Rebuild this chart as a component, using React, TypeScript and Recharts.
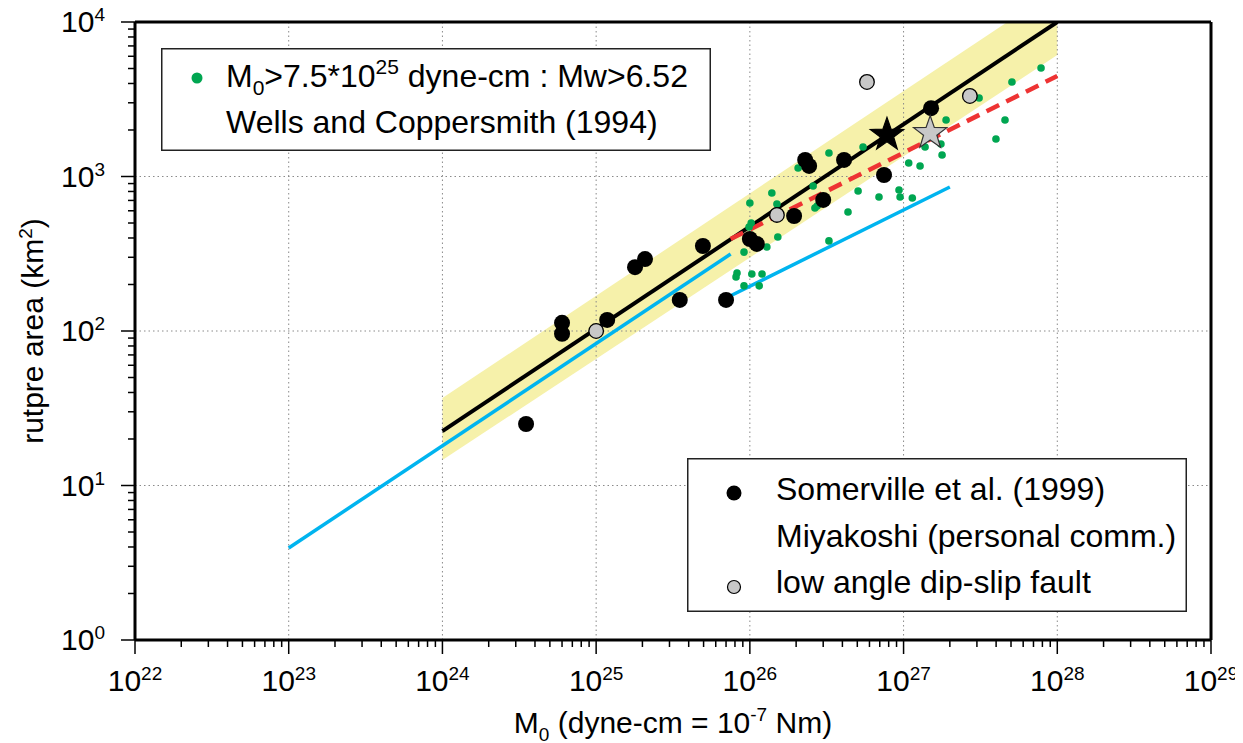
import React from 'react';
import { ComposedChart, XAxis, YAxis, Line, Area, Scatter, ReferenceLine, Label } from 'recharts';

const FONT = '"Liberation Sans", Arial, Helvetica, sans-serif';

// axis decades (tick labels are 10^n)
const xDecades = [1e22, 1e23, 1e24, 1e25, 1e26, 1e27, 1e28, 1e29];
const yDecades = [1, 10, 100, 1000, 10000];
const minorSteps = [2, 3, 4, 5, 6, 7, 8, 9];
const xTicks = [...xDecades, ...xDecades.slice(0, -1).flatMap((d) => minorSteps.map((k) => k * d))];
const yTicks = [...yDecades, ...yDecades.slice(0, -1).flatMap((d) => minorSteps.map((k) => k * d))];

// Somerville et al. (1999)
const somerville = [
  { x: 3.5e24, y: 25 },
  { x: 6.0e24, y: 113 },
  { x: 6.0e24, y: 96 },
  { x: 1.18e25, y: 118 },
  { x: 1.79e25, y: 259 },
  { x: 2.08e25, y: 292 },
  { x: 3.5e25, y: 159 },
  { x: 4.95e25, y: 355 },
  { x: 7.0e25, y: 159 },
  { x: 1.0e26, y: 394 },
  { x: 1.11e26, y: 366 },
  { x: 1.94e26, y: 555 },
  { x: 3.0e26, y: 705 },
  { x: 2.29e26, y: 1280 },
  { x: 2.43e26, y: 1170 },
  { x: 4.1e26, y: 1280 },
  { x: 7.46e26, y: 1023 },
  { x: 1.51e27, y: 2770 },
];

// low angle dip-slip fault
const lowAngle = [
  { x: 1.0e25, y: 100 },
  { x: 1.5e26, y: 564 },
  { x: 5.78e26, y: 4090 },
  { x: 2.7e27, y: 3320 },
];

// Miyakoshi (M0 > 7.5e25)
const miyakoshi = [
  { x: 3.27e26, y: 1419 }, { x: 5.45e26, y: 1552 }, { x: 2.06e26, y: 1135 },
  { x: 1.39e26, y: 782 }, { x: 1.0e26, y: 673 }, { x: 1.5e26, y: 664 },
  { x: 1.02e26, y: 500 }, { x: 9.88e25, y: 471 }, { x: 2.58e26, y: 868 },
  { x: 2.65e26, y: 625 }, { x: 2.74e26, y: 644 }, { x: 5.06e26, y: 806 },
  { x: 4.35e26, y: 589 }, { x: 6.92e26, y: 737 }, { x: 9.34e26, y: 818 },
  { x: 9.49e26, y: 737 }, { x: 1.14e27, y: 726 }, { x: 1.08e27, y: 1223 },
  { x: 1.28e27, y: 1169 }, { x: 1.78e27, y: 1378 }, { x: 1.52e26, y: 406 },
  { x: 1.29e26, y: 350 }, { x: 9.16e25, y: 324 }, { x: 3.27e26, y: 383 },
  { x: 8.25e25, y: 237 }, { x: 8.13e25, y: 224 }, { x: 1.03e26, y: 234 },
  { x: 1.2e26, y: 234 }, { x: 9.16e25, y: 196 }, { x: 1.15e26, y: 196 },
  { x: 1.89e27, y: 2320 }, { x: 1.38e27, y: 1552 }, { x: 1.75e27, y: 1624 },
  { x: 3.1e27, y: 3221 }, { x: 4.57e27, y: 2320 }, { x: 3.99e27, y: 1749 },
  { x: 5.07e27, y: 4090 }, { x: 7.84e27, y: 5040 },
];

const blackStar = [{ x: 7.8e26, y: 1860 }];
const grayStar = [{ x: 1.49e27, y: 1910 }];

// Wells and Coppersmith (1994) fit and its band
const wellsLine = [
  { x: 1e24, y: 22.5 },
  { x: 1e28, y: 10000 },
];
const wellsBand = [
  { x: 1e24, y: [14.6, 36.8] },
  { x: 1e28, y: [6110, 16400] },
];
const redLine = [
  { x: 7.5e25, y: 394 },
  { x: 1e28, y: 4470 },
];
const cyanLow = [
  { x: 1e23, y: 3.94 },
  { x: 7.5e25, y: 315 },
];
const cyanHigh = [
  { x: 7.5e25, y: 169 },
  { x: 2e27, y: 855 },
];

const GREEN = '#00a651';
const CYAN = '#00b4ef';
const RED = '#ee3333';
const YELLOW = '#f6f1aa';
const GRAY = '#c8c8c8';

const isMajor = (v: number) => {
  const e = Math.log10(v);
  return Math.abs(e - Math.round(e)) < 1e-6;
};

// draws tick line (major/minor) and optional 10^n label
const makeTick = (side: 'bottom' | 'top' | 'left' | 'right', label: boolean) => (props: any) => {
  const { x, y, payload } = props;
  const v = payload.value;
  const major = isMajor(v);
  const len = major ? 14 : 7;
  const e = Math.round(Math.log10(v));
  let line;
  if (side === 'bottom') line = <line x1={x} y1={y} x2={x} y2={y + len} />;
  else if (side === 'top') line = <line x1={x} y1={y} x2={x} y2={y - len} />;
  else if (side === 'left') line = <line x1={x} y1={y} x2={x - len} y2={y} />;
  else line = <line x1={x} y1={y} x2={x + len} y2={y} />;
  return (
    <g stroke="#000" strokeWidth={1.5}>
      {line}
      {label && major && side === 'bottom' && (
        <text x={x} y={y + 51} textAnchor="middle" fontSize={30} fontFamily={FONT} fill="#000" stroke="none">
          10
          <tspan dy={-11} fontSize={19}>{e}</tspan>
        </text>
      )}
      {label && major && side === 'left' && (
        <text x={x - 30} y={y + 10} textAnchor="end" fontSize={30} fontFamily={FONT} fill="#000" stroke="none">
          10
          <tspan dy={-11} fontSize={19}>{e}</tspan>
        </text>
      )}
    </g>
  );
};

const dot = (r: number, fill: string, stroke?: string) => (props: any) => (
  <circle cx={props.cx} cy={props.cy} r={r} fill={fill} stroke={stroke || 'none'} strokeWidth={1.3} />
);

const star = (fill: string, stroke: string) => (props: any) => {
  const { cx, cy } = props;
  const pts: string[] = [];
  for (let i = 0; i < 10; i++) {
    const r = i % 2 === 0 ? 17.5 : 7;
    const a = -Math.PI / 2 + (i * Math.PI) / 5;
    pts.push(`${cx + r * Math.cos(a)},${cy + r * Math.sin(a)}`);
  }
  return <polygon points={pts.join(' ')} fill={fill} stroke={stroke} strokeWidth={1.2} />;
};

const XTitle = (props: any) => {
  const { x, y, width } = props.viewBox;
  return (
    <text x={x + width / 2} y={y + 93} textAnchor="middle" fontSize={30} fontFamily={FONT} fill="#000">
      M<tspan dy={8} fontSize={19}>0</tspan>
      <tspan dy={-8}> (dyne-cm = 10</tspan>
      <tspan dy={-12} fontSize={19}>-7</tspan>
      <tspan dy={12}> Nm)</tspan>
    </text>
  );
};

const YTitle = (props: any) => {
  const { x, y, height, width } = props.viewBox;
  const cx = x + width - 92;
  const cy = y + height / 2;
  return (
    <text x={cx} y={cy} transform={`rotate(-90 ${cx} ${cy})`} textAnchor="middle" fontSize={30} fontFamily={FONT} fill="#000">
      rutpre area (km<tspan dy={-11} fontSize={19}>2</tspan>
      <tspan dy={11}>)</tspan>
    </text>
  );
};

const gridStyle = { stroke: '#8a8a8a', strokeWidth: 1, strokeDasharray: '1.5 3' };
const frame = { stroke: '#000', strokeWidth: 3 };

export default function App() {
  return (
    <div style={{ position: 'relative', width: 1227, height: 735, fontFamily: FONT }}>
      <style>{'.recharts-surface { overflow: visible; } .recharts-wrapper { overflow: visible; }'}</style>
      <ComposedChart width={1227} height={735} margin={{ top: 13, right: 23, bottom: 102, left: 126 }}>
        <XAxis dataKey="x" type="number" scale="log" domain={[1e22, 1e29]} ticks={xTicks} interval={0}
          allowDataOverflow height={1} tickSize={0} tickMargin={0} tickLine={false} axisLine={frame}
          tick={makeTick('bottom', true)}>
          <Label content={<XTitle />} />
        </XAxis>
        <XAxis xAxisId="xtop" orientation="top" dataKey="x" type="number" scale="log" domain={[1e22, 1e29]}
          ticks={xTicks} interval={0} height={1} tickSize={0} tickMargin={0} tickLine={false} axisLine={frame}
          tick={makeTick('top', false)} />
        <YAxis dataKey="y" type="number" scale="log" domain={[1, 10000]} ticks={yTicks} interval={0}
          allowDataOverflow width={1} tickSize={0} tickMargin={0} tickLine={false} axisLine={frame}
          tick={makeTick('left', true)}>
          <Label content={<YTitle />} />
        </YAxis>
        <YAxis yAxisId="yright" orientation="right" dataKey="y" type="number" scale="log" domain={[1, 10000]}
          ticks={yTicks} interval={0} width={1} tickSize={0} tickMargin={0} tickLine={false} axisLine={frame}
          tick={makeTick('right', false)} />

        <Area data={wellsBand} dataKey="y" type="linear" fill={YELLOW} fillOpacity={1} stroke="none"
          isAnimationActive={false} />

        {xDecades.slice(1, -1).map((v) => (
          <ReferenceLine key={`gx${v}`} x={v} {...gridStyle} />
        ))}
        {yDecades.slice(1, -1).map((v) => (
          <ReferenceLine key={`gy${v}`} y={v} {...gridStyle} />
        ))}

        <Line data={cyanLow} dataKey="y" type="linear" stroke={CYAN} strokeWidth={3.5} dot={false} isAnimationActive={false} />
        <Line data={cyanHigh} dataKey="y" type="linear" stroke={CYAN} strokeWidth={3.5} dot={false} isAnimationActive={false} />
        <Line data={wellsLine} dataKey="y" type="linear" stroke="#000" strokeWidth={4} dot={false} isAnimationActive={false} />
        <Line data={redLine} dataKey="y" type="linear" stroke={RED} strokeWidth={4.5} strokeDasharray="14 8"
          dot={false} isAnimationActive={false} />

        <Scatter data={miyakoshi} fill={GREEN} shape={dot(3.8, GREEN)} isAnimationActive={false} />
        <Scatter data={somerville} fill="#000" shape={dot(8, '#000')} isAnimationActive={false} />
        <Scatter data={lowAngle} fill={GRAY} shape={dot(7.3, GRAY, '#000')} isAnimationActive={false} />
        <Scatter data={blackStar} fill="#000" shape={star('#000', '#000')} isAnimationActive={false} />
        <Scatter data={grayStar} fill={GRAY} shape={star(GRAY, '#333')} isAnimationActive={false} />
      </ComposedChart>

      <svg width={550} height={103} style={{ position: 'absolute', left: 153, top: 40 }}>
        <rect x={0.75} y={0.75} width={548.5} height={101.5} fill="#fff" stroke="#222" strokeWidth={1.5} />
        <circle cx={36} cy={30} r={5.5} fill={GREEN} />
        <text x={65} y={39} fontSize={32} fontFamily={FONT} fill="#000">
          M<tspan dy={8} fontSize={21}>0</tspan>
          <tspan dy={-8}>&gt;7.5*10</tspan>
          <tspan dy={-13} fontSize={21}>25</tspan>
          <tspan dy={13}> dyne-cm : Mw&gt;6.52</tspan>
        </text>
        <text x={65} y={85} fontSize={32} fontFamily={FONT} fill="#000">Wells and Coppersmith (1994)</text>
      </svg>

      <svg width={500} height={154} style={{ position: 'absolute', left: 679, top: 450 }}>
        <rect x={0.75} y={0.75} width={498.5} height={152.5} fill="#fff" stroke="#222" strokeWidth={1.5} />
        <circle cx={47} cy={35} r={7.5} fill="#000" />
        <circle cx={47} cy={129} r={6.5} fill={GRAY} stroke="#000" strokeWidth={1.2} />
        <text x={89} y={42} fontSize={32} fontFamily={FONT} fill="#000">Somerville et al. (1999)</text>
        <text x={89} y={89} fontSize={32} fontFamily={FONT} fill="#000">Miyakoshi (personal comm.)</text>
        <text x={89} y={135} fontSize={32} fontFamily={FONT} fill="#000">low angle dip-slip fault</text>
      </svg>
    </div>
  );
}
